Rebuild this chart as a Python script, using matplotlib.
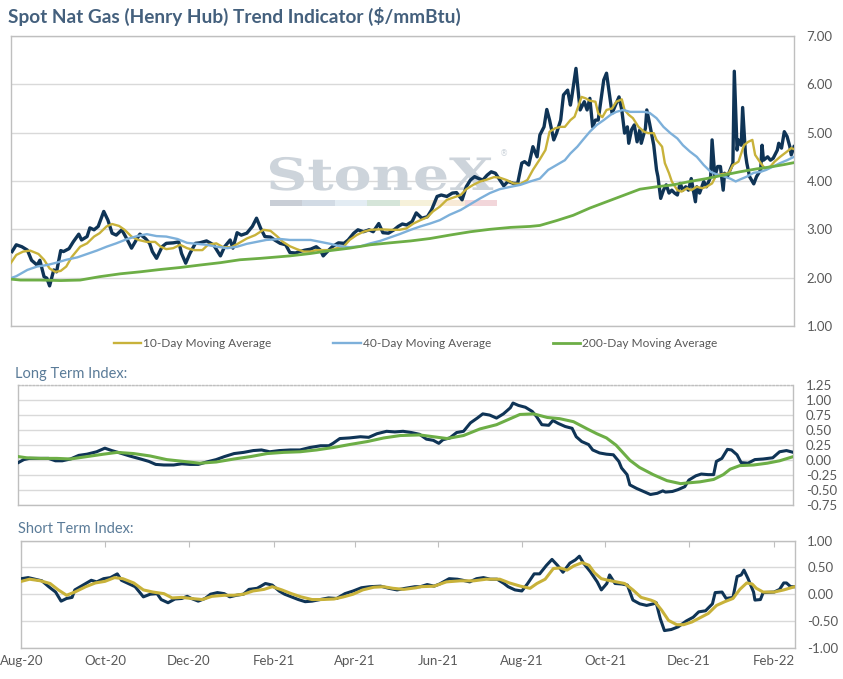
import numpy as np
import pandas as pd
import matplotlib
matplotlib.use("Agg")
import matplotlib.pyplot as plt
from matplotlib.patches import Rectangle, PathPatch
from matplotlib.textpath import TextPath
from matplotlib.font_manager import FontProperties
from matplotlib.transforms import Affine2D
from matplotlib.ticker import FormatStrFormatter

plt.rcParams['font.family'] = ['Lato', 'DejaVu Sans']

# days counted from 1 Aug 2020
START = pd.Timestamp("2020-08-01")
END = pd.Timestamp("2022-02-16")

# spot Henry Hub price
spot_day = [1, 4, 8, 12, 15, 19, 21, 24, 26, 28,
            31, 33, 36, 38, 42, 45, 49, 51, 55, 57,
            60, 63, 67, 70, 73, 76, 80, 84, 87, 91,
            93, 97, 100, 102, 105, 109, 112, 117, 121, 123,
            126, 129, 133, 136, 141, 146, 151, 154, 158, 160,
            163, 166, 170, 174, 177, 180, 183, 187, 190, 194,
            198, 201, 205, 208, 212, 216, 220, 223, 225, 229,
            232, 236, 240, 243, 247, 250, 254, 258, 261, 265,
            268, 272, 276, 279, 282, 285, 289, 292, 296, 300,
            303, 307, 310, 314, 318, 321, 325, 328, 331, 334,
            337, 340, 343, 346, 349, 352, 355, 358, 362, 365,
            368, 370, 373, 376, 379, 381, 384, 386, 388, 391,
            393, 396, 398, 401, 403, 404, 407, 409, 410, 413,
            415, 417, 419, 421, 423, 426, 427, 429, 431, 433,
            435, 438, 440, 442, 444, 445, 447, 449, 451, 453,
            454, 457, 458, 460, 463, 465, 466, 468, 470, 472,
            474, 476, 478, 480, 482, 484, 486, 488, 490, 493,
            494, 496, 499, 501, 504, 505, 507, 509, 511, 513,
            514, 516, 518, 520, 521, 523, 524, 526, 527, 529,
            530, 532, 535, 537, 540, 541, 542, 545, 547, 549,
            552, 553, 555, 557, 559, 561, 562, 564]
spot_val = [2.54, 2.68, 2.64, 2.57, 2.36, 2.26, 2.36, 2.02, 1.99, 1.83,
            2.16, 2.12, 2.56, 2.54, 2.60, 2.74, 2.90, 2.78, 2.85, 3.03,
            2.99, 3.06, 3.37, 3.19, 2.92, 2.88, 2.99, 2.78, 2.61, 2.81,
            2.90, 2.81, 2.71, 2.54, 2.40, 2.64, 2.71, 2.72, 2.74, 2.50,
            2.30, 2.50, 2.71, 2.72, 2.76, 2.68, 2.45, 2.64, 2.78, 2.61,
            2.93, 2.88, 2.92, 3.06, 3.23, 3.02, 2.85, 2.84, 2.78, 2.71,
            2.68, 2.52, 2.51, 2.54, 2.57, 2.59, 2.64, 2.57, 2.45, 2.57,
            2.65, 2.72, 2.71, 2.78, 2.92, 2.99, 2.95, 2.99, 2.95, 3.12,
            2.93, 2.92, 2.99, 3.06, 3.11, 3.09, 3.16, 3.34, 3.23, 3.26,
            3.40, 3.68, 3.71, 3.68, 3.75, 3.76, 3.61, 3.88, 4.02, 4.09,
            4.05, 4.02, 4.12, 4.19, 4.16, 4.03, 3.90, 3.99, 3.95, 3.95,
            4.37, 4.40, 4.33, 4.71, 4.50, 4.95, 5.12, 5.48, 5.26, 4.85,
            4.99, 5.26, 5.78, 5.88, 5.57, 5.74, 6.33, 5.74, 5.47, 5.64,
            5.47, 5.71, 5.12, 5.26, 5.26, 5.88, 6.09, 6.23, 5.81, 5.40,
            5.54, 5.74, 5.47, 4.99, 5.12, 4.78, 5.06, 5.16, 4.81, 5.06,
            4.78, 5.09, 5.47, 5.19, 4.74, 4.23, 4.09, 3.64, 3.81, 3.92,
            3.75, 3.81, 3.75, 3.71, 3.95, 3.81, 3.88, 3.81, 4.05, 3.57,
            3.88, 3.75, 3.99, 3.88, 4.09, 4.85, 4.09, 4.30, 4.30, 3.81,
            4.16, 4.09, 4.23, 4.37, 6.27, 4.64, 4.85, 4.74, 5.52, 4.57,
            4.37, 4.09, 3.94, 4.09, 4.23, 4.74, 4.43, 4.50, 4.43, 4.47,
            4.64, 4.78, 4.68, 5.02, 4.92, 4.71, 4.54, 4.71]

ma10_day = [0, 4, 9, 14, 20, 24, 28, 32, 36, 40,
            44, 50, 55, 60, 64, 69, 73, 78, 82, 87,
            92, 98, 104, 108, 112, 117, 122, 127, 132, 138,
            142, 148, 153, 159, 164, 170, 176, 182, 187, 192,
            196, 201, 206, 211, 216, 220, 225, 230, 235, 240,
            244, 249, 254, 259, 266, 273, 280, 285, 290, 295,
            300, 304, 309, 314, 319, 324, 328, 333, 338, 343,
            348, 352, 357, 362, 367, 372, 376, 381, 385, 388,
            392, 396, 399, 403, 406, 409, 411, 414, 417, 421,
            423, 426, 429, 433, 436, 440, 442, 445, 448, 452,
            456, 459, 463, 465, 469, 471, 474, 476, 480, 483,
            487, 490, 494, 498, 501, 505, 508, 512, 517, 520,
            524, 528, 531, 534, 536, 540, 543, 547, 550, 554,
            559, 562, 564]
ma10_val = [2.30, 2.47, 2.54, 2.56, 2.49, 2.37, 2.19, 2.12, 2.14, 2.23,
            2.43, 2.64, 2.71, 2.85, 2.92, 3.06, 3.11, 3.07, 2.99, 2.85,
            2.78, 2.74, 2.74, 2.64, 2.59, 2.61, 2.68, 2.61, 2.57, 2.57,
            2.68, 2.71, 2.63, 2.63, 2.71, 2.81, 2.88, 2.99, 2.97, 2.85,
            2.74, 2.65, 2.59, 2.54, 2.54, 2.57, 2.57, 2.57, 2.61, 2.65,
            2.78, 2.88, 2.95, 2.99, 3.00, 2.99, 2.99, 3.02, 3.12, 3.19,
            3.25, 3.37, 3.47, 3.61, 3.66, 3.71, 3.83, 3.92, 3.99, 4.03,
            4.08, 4.07, 4.02, 3.95, 3.94, 4.02, 4.23, 4.45, 4.64, 5.02,
            5.09, 5.12, 5.12, 5.26, 5.33, 5.57, 5.74, 5.71, 5.66, 5.64,
            5.40, 5.32, 5.47, 5.50, 5.64, 5.69, 5.47, 5.37, 5.30, 5.12,
            5.02, 4.99, 4.99, 4.85, 4.71, 4.37, 4.16, 3.99, 3.81, 3.78,
            3.85, 3.81, 3.88, 3.85, 3.88, 3.95, 4.12, 4.14, 4.16, 4.33,
            4.40, 4.74, 4.81, 4.85, 4.54, 4.37, 4.26, 4.30, 4.40, 4.50,
            4.61, 4.68, 4.66]

ma40_day = [0, 4, 12, 19, 26, 33, 40, 48, 55, 62,
            69, 76, 84, 91, 98, 105, 112, 120, 127, 134,
            141, 148, 156, 163, 170, 177, 184, 194, 201, 208,
            216, 223, 230, 237, 244, 252, 259, 266, 273, 280,
            288, 295, 302, 309, 316, 324, 331, 338, 345, 352,
            360, 367, 374, 381, 387, 393, 399, 403, 408, 412,
            417, 422, 427, 432, 436, 441, 446, 451, 456, 460,
            465, 470, 475, 480, 484, 489, 494, 499, 504, 508,
            513, 518, 522, 525, 530, 535, 540, 544, 549, 554,
            559, 564]
ma40_val = [1.99, 2.03, 2.16, 2.23, 2.26, 2.31, 2.37, 2.42, 2.49, 2.56,
            2.64, 2.71, 2.80, 2.86, 2.90, 2.86, 2.85, 2.80, 2.72, 2.70,
            2.68, 2.64, 2.61, 2.64, 2.70, 2.74, 2.78, 2.80, 2.78, 2.78,
            2.78, 2.74, 2.70, 2.65, 2.63, 2.65, 2.71, 2.76, 2.83, 2.90,
            2.99, 3.06, 3.12, 3.19, 3.30, 3.40, 3.52, 3.64, 3.75, 3.83,
            3.88, 3.92, 3.99, 4.05, 4.23, 4.33, 4.43, 4.57, 4.71, 4.85,
            5.02, 5.16, 5.26, 5.37, 5.43, 5.47, 5.43, 5.43, 5.43, 5.41,
            5.30, 5.12, 4.99, 4.88, 4.74, 4.61, 4.50, 4.33, 4.19, 4.14,
            4.10, 4.05, 3.99, 4.03, 4.09, 4.17, 4.19, 4.23, 4.30, 4.37,
            4.43, 4.50]

ma200_day = [0, 7, 21, 36, 50, 64, 79, 93, 108, 122,
             136, 151, 165, 180, 201, 216, 230, 244, 259, 273,
             288, 302, 316, 331, 345, 360, 374, 381, 393, 405,
             417, 429, 441, 453, 465, 477, 489, 501, 513, 525,
             537, 549, 557, 564]
ma200_val = [1.97, 1.95, 1.95, 1.94, 1.95, 2.02, 2.08, 2.12, 2.17, 2.21,
             2.26, 2.31, 2.37, 2.40, 2.45, 2.50, 2.56, 2.61, 2.68, 2.72,
             2.76, 2.81, 2.88, 2.95, 3.00, 3.04, 3.06, 3.08, 3.18, 3.29,
             3.44, 3.57, 3.70, 3.83, 3.88, 3.92, 3.99, 4.05, 4.12, 4.19,
             4.25, 4.30, 4.34, 4.38]

# long term index
lt_day = [0, 4, 8, 16, 22, 27, 32, 38, 44, 50,
          57, 63, 68, 74, 81, 89, 95, 100, 106, 113,
          119, 125, 131, 137, 144, 150, 157, 164, 171, 177,
          183, 190, 198, 205, 212, 220, 226, 229, 234, 241,
          249, 255, 261, 268, 274, 280, 286, 292, 297, 302,
          306, 309, 314, 319, 324, 329, 334, 338, 343, 348,
          353, 358, 360, 364, 369, 374, 377, 381, 386, 389,
          393, 398, 403, 406, 410, 415, 418, 423, 428, 433,
          437, 439, 443, 445, 450, 455, 460, 465, 469, 471,
          476, 480, 485, 488, 493, 497, 502, 506, 508, 512,
          516, 519, 523, 526, 531, 536, 542, 549, 554, 559,
          564]
lt_val = [-0.04, 0.01, 0.03, 0.03, 0.03, -0.01, -0.01, 0.02, 0.08, 0.10,
          0.14, 0.20, 0.16, 0.12, 0.07, 0.02, -0.02, -0.07, -0.08, -0.08,
          -0.06, -0.07, -0.07, -0.03, 0.01, 0.06, 0.11, 0.13, 0.16, 0.17,
          0.14, 0.16, 0.17, 0.17, 0.21, 0.24, 0.24, 0.28, 0.36, 0.37,
          0.39, 0.38, 0.44, 0.48, 0.47, 0.48, 0.46, 0.43, 0.35, 0.33,
          0.28, 0.34, 0.37, 0.46, 0.48, 0.62, 0.70, 0.77, 0.75, 0.70,
          0.77, 0.87, 0.95, 0.91, 0.88, 0.81, 0.73, 0.59, 0.58, 0.66,
          0.61, 0.56, 0.53, 0.39, 0.31, 0.26, 0.17, 0.12, 0.10, 0.09,
          -0.02, -0.13, -0.24, -0.41, -0.47, -0.52, -0.57, -0.55, -0.51, -0.53,
          -0.52, -0.49, -0.44, -0.33, -0.26, -0.23, -0.24, -0.24, -0.02, 0.03,
          0.18, 0.17, 0.09, -0.04, -0.05, 0.01, 0.02, 0.04, 0.14, 0.16,
          0.13]

ltma_day = [0, 6, 16, 28, 38, 50, 62, 72, 84, 96,
            108, 120, 132, 144, 157, 169, 181, 193, 205, 217,
            229, 241, 254, 266, 278, 292, 302, 312, 324, 336,
            348, 355, 365, 375, 385, 394, 404, 414, 421, 428,
            435, 445, 452, 462, 472, 482, 486, 496, 506, 513,
            518, 525, 535, 545, 554, 564]
ltma_val = [0.06, 0.04, 0.03, 0.03, 0.02, 0.06, 0.10, 0.13, 0.11, 0.07,
            0.01, -0.02, -0.05, -0.03, 0.02, 0.06, 0.11, 0.13, 0.14, 0.17,
            0.21, 0.26, 0.31, 0.37, 0.41, 0.42, 0.39, 0.36, 0.41, 0.52,
            0.59, 0.66, 0.76, 0.77, 0.71, 0.69, 0.64, 0.52, 0.44, 0.37,
            0.25, 0.00, -0.12, -0.24, -0.34, -0.39, -0.38, -0.36, -0.32, -0.24,
            -0.15, -0.09, -0.08, -0.05, -0.01, 0.06]

# short term index
st_day = [0, 5, 10, 15, 20, 25, 29, 33, 37, 39,
          45, 51, 55, 60, 65, 70, 73, 78, 83, 89,
          94, 99, 102, 107, 112, 117, 121, 124, 129, 134,
          138, 143, 148, 152, 157, 162, 166, 172, 178, 183,
          188, 192, 197, 202, 207, 212, 218, 224, 230, 236,
          242, 248, 254, 262, 268, 274, 280, 287, 291, 296,
          301, 305, 312, 318, 322, 327, 332, 337, 342, 347,
          352, 355, 360, 365, 369, 374, 378, 383, 387, 391,
          395, 400, 404, 407, 410, 415, 420, 423, 427, 429,
          433, 438, 442, 446, 451, 456, 461, 463, 466, 469,
          474, 479, 485, 490, 494, 499, 504, 506, 511, 514,
          519, 522, 525, 527, 530, 534, 535, 539, 541, 549,
          553, 556, 558, 561, 564]
st_val = [0.29, 0.31, 0.28, 0.25, 0.14, 0.04, -0.13, -0.08, -0.06, 0.08,
          0.17, 0.26, 0.23, 0.29, 0.31, 0.38, 0.26, 0.20, 0.14, -0.05,
          0.00, 0.01, -0.10, -0.16, -0.09, -0.08, -0.04, -0.08, -0.13, -0.08,
          0.00, 0.03, 0.01, -0.05, -0.02, 0.00, 0.09, 0.11, 0.20, 0.17,
          0.06, 0.00, -0.05, -0.10, -0.14, -0.13, -0.10, -0.07, -0.08, 0.01,
          0.06, 0.12, 0.14, 0.15, 0.11, 0.08, 0.11, 0.14, 0.14, 0.18,
          0.15, 0.19, 0.29, 0.28, 0.26, 0.23, 0.29, 0.31, 0.28, 0.28,
          0.20, 0.14, 0.08, 0.06, 0.19, 0.38, 0.38, 0.54, 0.65, 0.54,
          0.41, 0.58, 0.64, 0.71, 0.58, 0.42, 0.23, 0.08, 0.20, 0.36,
          0.20, 0.19, 0.17, -0.11, -0.18, -0.21, -0.18, -0.16, -0.46, -0.68,
          -0.66, -0.61, -0.50, -0.43, -0.33, -0.31, -0.18, 0.03, 0.04, -0.08,
          -0.06, 0.33, 0.36, 0.45, 0.29, 0.04, -0.11, -0.10, 0.03, 0.04,
          0.09, 0.21, 0.21, 0.14, 0.14]

stma_day = [0, 6, 14, 21, 27, 33, 39, 47, 54, 61,
            68, 74, 82, 89, 96, 104, 110, 117, 124, 132,
            139, 148, 155, 162, 169, 177, 183, 190, 197, 204,
            212, 219, 228, 235, 242, 249, 257, 264, 271, 279,
            288, 291, 301, 310, 320, 330, 339, 349, 356, 364,
            371, 376, 382, 388, 393, 398, 403, 409, 414, 418,
            423, 428, 434, 440, 446, 452, 459, 462, 467, 472,
            478, 483, 489, 495, 501, 507, 513, 519, 524, 529,
            533, 536, 541, 549, 556, 564]
stma_val = [0.24, 0.28, 0.25, 0.20, 0.08, -0.02, 0.04, 0.14, 0.21, 0.24,
            0.31, 0.29, 0.21, 0.08, 0.04, 0.01, -0.07, -0.06, -0.08, -0.10,
            -0.04, -0.02, -0.02, 0.00, 0.06, 0.09, 0.14, 0.08, 0.01, -0.05,
            -0.10, -0.10, -0.09, -0.05, 0.00, 0.08, 0.13, 0.14, 0.11, 0.09,
            0.12, 0.14, 0.15, 0.23, 0.25, 0.25, 0.28, 0.28, 0.21, 0.15,
            0.11, 0.20, 0.28, 0.48, 0.49, 0.45, 0.53, 0.59, 0.54, 0.40,
            0.29, 0.26, 0.23, 0.20, 0.08, -0.06, -0.11, -0.14, -0.30, -0.49,
            -0.57, -0.57, -0.52, -0.44, -0.36, -0.21, -0.14, -0.08, 0.09, 0.21,
            0.19, 0.11, 0.04, 0.04, 0.08, 0.14]

tick_dates = ["2020-08-01", "2020-10-01", "2020-12-01", "2021-02-01", "2021-04-01",
              "2021-06-01", "2021-08-01", "2021-10-01", "2021-12-01", "2022-02-01"]
tick_labels = ["Aug-20", "Oct-20", "Dec-20", "Feb-21", "Apr-21",
               "Jun-21", "Aug-21", "Oct-21", "Dec-21", "Feb-22"]

NAVY = "#0F3456"
GOLD = "#C8B23A"
BLUE = "#7DB0DA"
GREEN = "#6DAE46"
GRID = "#D9D9D9"
EDGE = "#BFBFBF"
TXT = "#595959"
WM = "#CDD4DB"


def to_dates(days):
    return START + pd.to_timedelta(days, unit="D")


def style(ax, lo, hi, step):
    ax.set_xlim(START, END)
    ax.set_ylim(lo, hi)
    ax.set_yticks(np.arange(lo, hi + step / 2, step))
    ax.yaxis.tick_right()
    ax.yaxis.set_major_formatter(FormatStrFormatter("%.2f"))
    ax.tick_params(axis="y", length=0, pad=9, labelsize=9.5, labelcolor=TXT)
    ax.grid(axis="y", color=GRID, lw=1)
    ax.set_axisbelow(True)
    for s in ax.spines.values():
        s.set_color(EDGE)
        s.set_linewidth(1)


fig = plt.figure(figsize=(8.43, 6.79), dpi=100)

# ---- top: price and moving averages
ax1 = fig.add_axes([0.0127, 0.5199, 0.9292, 0.4271])
style(ax1, 1, 7, 1)
ax1.set_xticks([])

# watermark: wide serif logo, stretched text path in axes fractions
tp = TextPath((0, 0), "StoneX", size=1,
              prop=FontProperties(family="DejaVu Serif", weight="bold"))
bb = tp.get_extents()
sx = 0.285 / bb.width
sy = 0.114 / bb.y1
wm_tr = Affine2D().translate(-bb.x0, 0).scale(sx, sy).translate(0.331, 0.469)
ax1.add_patch(PathPatch(tp, transform=wm_tr + ax1.transAxes, facecolor=WM,
                        edgecolor="none", zorder=1))
ax1.text(0.630, 0.585, "\u00ae", transform=ax1.transAxes, ha="center",
         fontsize=6, family="DejaVu Sans", color=WM, zorder=1)
bar_cols = ["#C9CED6", "#D2DBE5", "#E3ECF3", "#D5E5D9", "#F6F1DA", "#F8EAD7", "#F2D6DA"]
bw = (0.621 - 0.331) / len(bar_cols)
for i, c in enumerate(bar_cols):
    ax1.add_patch(Rectangle((0.331 + i * bw, 0.415), bw, 0.019, transform=ax1.transAxes,
                            facecolor=c, edgecolor="none", zorder=1))

ax1.plot(to_dates(spot_day), spot_val, color=NAVY, lw=2.4, zorder=3)
l10, = ax1.plot(to_dates(ma10_day), ma10_val, color=GOLD, lw=1.7, zorder=4)
l40, = ax1.plot(to_dates(ma40_day), ma40_val, color=BLUE, lw=1.7, zorder=4)
l200, = ax1.plot(to_dates(ma200_day), ma200_val, color=GREEN, lw=2.0, zorder=4)

fig.legend([l10, l40, l200],
           ["10-Day Moving Average", "40-Day Moving Average", "200-Day Moving Average"],
           loc="center", bbox_to_anchor=(0.493, 0.4934), ncol=3, frameon=False,
           fontsize=8.6, handlelength=2.3, handletextpad=0.15, columnspacing=5.2,
           labelcolor=TXT)

fig.text(0.0095, 0.976, "Spot Nat Gas (Henry Hub) Trend Indicator ($/mmBtu)",
         fontsize=13.7, fontweight="bold", color="#44607D", va="center", ha="left")

# ---- middle: long term index
ax2 = fig.add_axes([0.0217, 0.2558, 0.9194, 0.1772])
style(ax2, -0.75, 1.25, 0.25)
ax2.set_xticks([])
ax2.spines["top"].set_linestyle(":")
ax2.plot(to_dates(lt_day), lt_val, color=NAVY, lw=2.2, zorder=3)
ax2.plot(to_dates(ltma_day), ltma_val, color=GREEN, lw=2.2, zorder=4)
fig.text(0.0178, 0.449, "Long Term Index:", fontsize=10.5, color="#5A7B98",
         va="center", ha="left")

# ---- bottom: short term index
ax3 = fig.add_axes([0.0253, 0.0461, 0.9174, 0.1576])
style(ax3, -1.0, 1.0, 0.5)
ax3.set_xticks(pd.to_datetime(tick_dates))
ax3.set_xticklabels(tick_labels)
ax3.tick_params(axis="x", bottom=False, top=True, direction="in", length=4,
                color=EDGE, labelbottom=True, labeltop=False, pad=5.5,
                labelsize=9.5, labelcolor=TXT)
ax3.plot(to_dates(st_day), st_val, color=NAVY, lw=2.2, zorder=3)
ax3.plot(to_dates(stma_day), stma_val, color=GOLD, lw=2.2, zorder=4)
fig.text(0.0213, 0.2205, "Short Term Index:", fontsize=10.5, color="#5A7B98",
         va="center", ha="left")

fig.savefig("out.png", dpi=100)
